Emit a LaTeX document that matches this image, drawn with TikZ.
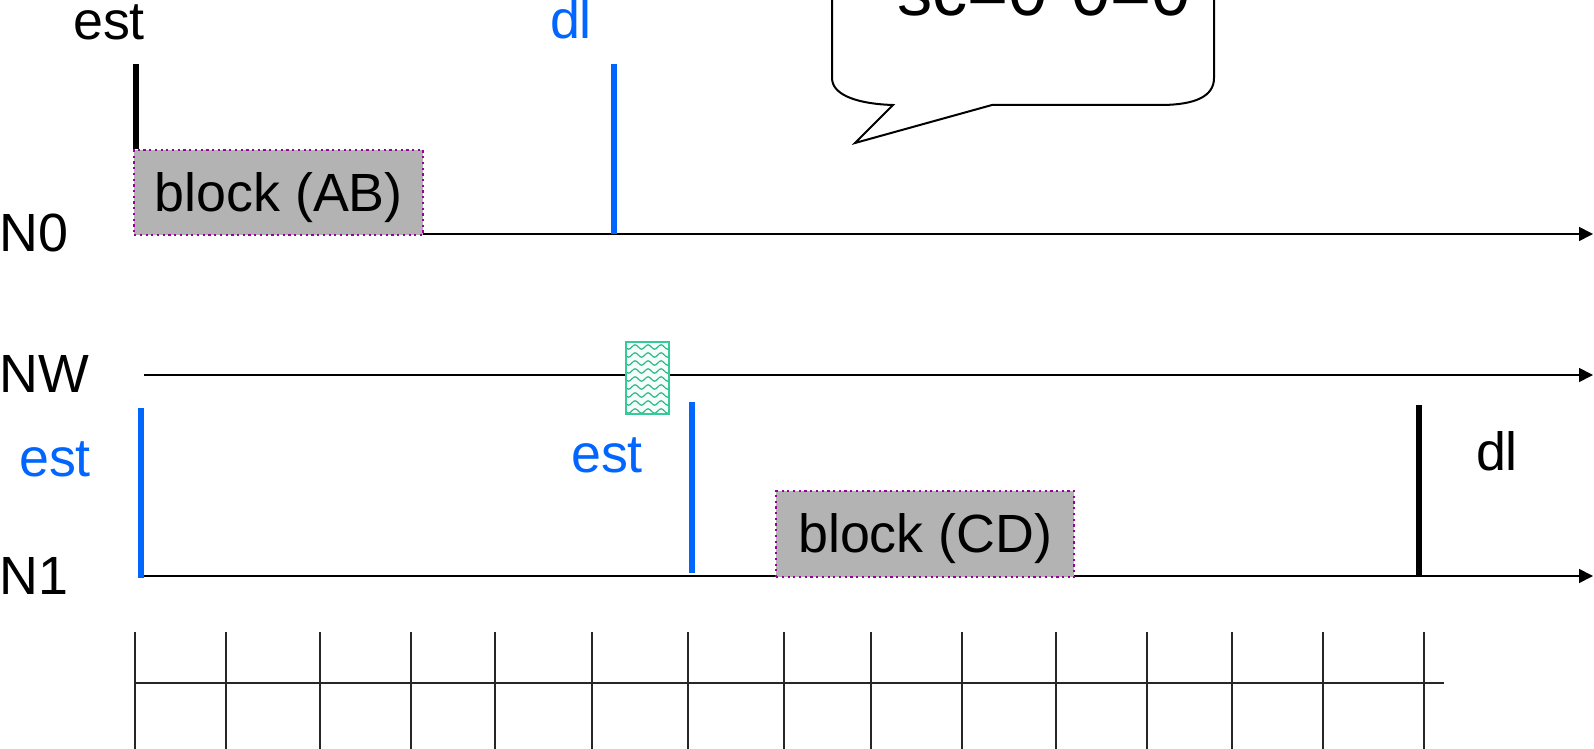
\documentclass[tikz,border=0pt]{standalone}
\usepackage{fontspec}
\setmainfont{Liberation Sans}
\usetikzlibrary{arrows.meta, decorations.pathmorphing}
\definecolor{estBlue}{RGB}{0, 102, 255}
\definecolor{blockGray}{RGB}{179, 179, 179}
\definecolor{blockEdge}{RGB}{153, 0, 153}
\definecolor{waveGreen}{RGB}{51, 204, 153}

\begin{document}
\begin{tikzpicture}[x=0.01cm, y=-0.01cm, font=\fontsize{15.3}{18}\selectfont,
    axis/.style={line width=0.016cm, -{Triangle[length=0.14cm, width=0.14cm]}},
    evbar/.style={line width=0.055cm},
    block/.style={draw=blockEdge, densely dotted, line width=0.022cm, fill=blockGray,
      anchor=north west, inner sep=0pt, text height=0.45cm, text depth=0.08cm},
    lbl/.style={anchor=base, inner sep=0pt},
    ruler/.style={line width=0.012cm, black!85}]
  \useasboundingbox (0,0) rectangle (1594,749);

  % rows
  \node[lbl, anchor=base west] (n0) at (-1,252) {N0};
  \node[lbl, anchor=base west] (nwl) at (-1,393) {NW};
  \node[lbl, anchor=base west] (n1) at (-1,594) {N1};
  \draw[axis] (134,234) -- (1593,234);
  \draw[axis] (144,375) -- (1593,375);
  \draw[axis] (141,576) -- (1593,576);

  % N0: estimate, deadline and block
  \node[block, minimum width=2.89cm, minimum height=0.85cm] (ab) at (133,149) {block (AB)};
  \draw[evbar] (136,64) -- (136,149);
  \node[lbl] (est0) at (109,40) {est};
  \draw[evbar, estBlue] (614,64) -- (614,234);
  \node[lbl, text=estBlue] (dl0) at (571,39) {dl};

  % NW: message in transit
  \fill[waveGreen!5] (626,342) rectangle (669,414);
  \begin{scope}
    \clip (626,342) rectangle (669,414);
    \foreach \r in {0,...,8}
      \draw[waveGreen!90!black, line width=0.012cm, decorate,
        decoration={snake, amplitude=0.022cm, segment length=0.13cm}]
        (618,{347+8*\r}) -- (678,{347+8*\r});
  \end{scope}
  \draw[waveGreen, line width=0.022cm] (626,342) rectangle (669,414);
  \coordinate (msg) at (647,378);

  % N1: two estimates, deadline and block
  \draw[evbar, estBlue] (141,408) -- (141,578);
  \node[lbl, text=estBlue] (est1) at (55,477) {est};
  \draw[evbar, estBlue] (692,402) -- (692,573);
  \node[lbl, text=estBlue] (est2) at (607,472) {est};
  \node[block, minimum width=2.98cm, minimum height=0.86cm] (cd) at (775,490) {block (CD)};
  \draw[evbar] (1419,405) -- (1419,575);
  \node[lbl] (dl1) at (1497,470) {dl};

  % time ruler
  \draw[ruler] (135,683) -- (1444,683);
  \foreach \t in {135,226,320,411,495,592,688,784,871,962,1056,1147,1232,1323,1424}
    \draw[ruler] (\t,632) -- (\t,749);

  % callout
  \begin{scope}
    \clip (0,0) rectangle (1594,749);
    \draw[line width=0.02cm, fill=white] (832,-20) -- (832,78)
      .. controls (832,96) and (860,104) .. (893,105) -- (855,143) -- (992,105)
      -- (1160,105) .. controls (1196,105) and (1214,96) .. (1214,78) -- (1214,-20);
    \node[lbl, font=\fontsize{20}{24}\selectfont] (sc) at (1044,16) {sc=0-0=0};
  \end{scope}
\end{tikzpicture}
\end{document}
